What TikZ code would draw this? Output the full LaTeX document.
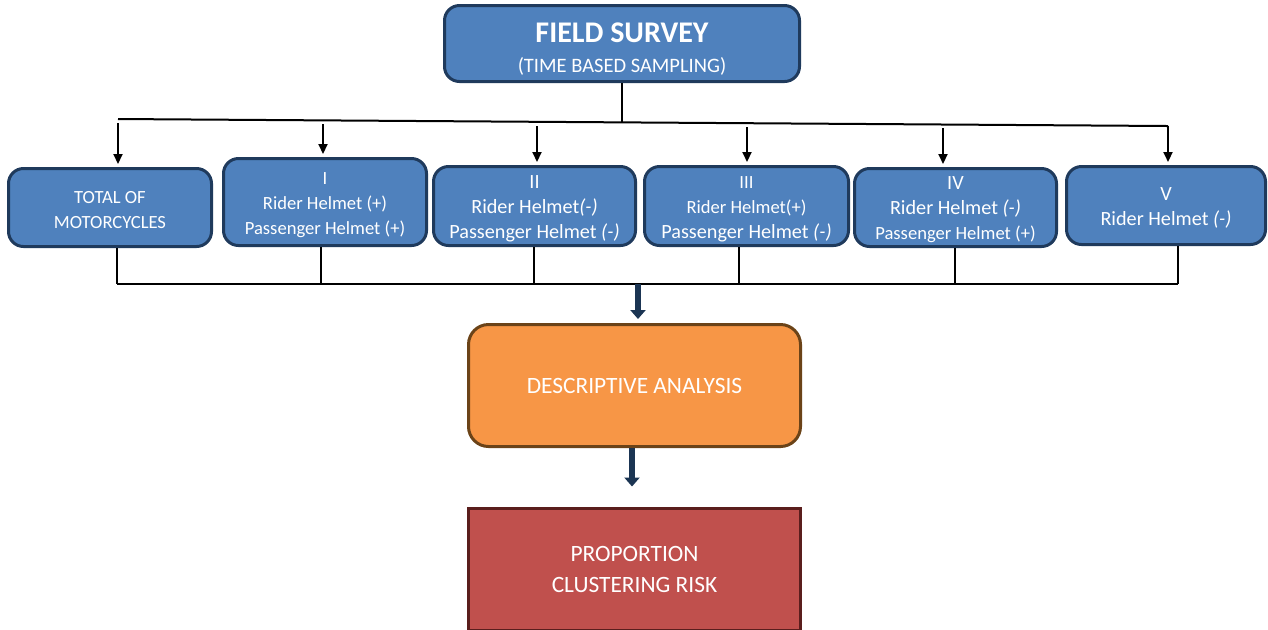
\documentclass[tikz,border=0pt]{standalone}
\usepackage{fontspec}
\setmainfont{Carlito}
\usetikzlibrary{arrows.meta,positioning}
\definecolor{boxblue}{HTML}{4F81BD}
\definecolor{edgeblue}{HTML}{1F3A5C}
\definecolor{boxorange}{HTML}{F79646}
\definecolor{edgebrown}{HTML}{6B4318}
\definecolor{boxred}{HTML}{C0504D}
\definecolor{edgered}{HTML}{5A1E1D}
\definecolor{navy}{HTML}{1B3553}
\newcommand\smsize{\fontsize{9.3}{12.5}\selectfont}
\newcommand\lgsize{\fontsize{10.1}{12.5}\selectfont}
\newcommand\negsign{\textit{(-)}}
\newcommand\topstrut{\rule{0pt}{9pt}}

\begin{document}
\begin{tikzpicture}[x=0.5pt,y=-0.5pt,
  catbox/.style = {draw=edgeblue, fill=boxblue, line width=1.5pt, rounded corners=7.5pt,
    inner sep=0pt, align=center, text=white, font=\smsize},
  wire/.style = {line width=1pt, black},
  feed/.style = {wire, -{Triangle[length=5pt,width=4.5pt]}, shorten >=1.5pt},
  bigarrow/.style = {line width=3pt, navy, -{Triangle[length=4.5pt,width=7.5pt]}}]
\useasboundingbox (0,0) rectangle (1268,629);
\clip (0,0) rectangle (1268,629);
\fill[white] (0,0) rectangle (1268,629);

% top box
\node[catbox, minimum width=177.5pt, minimum height=38pt, font=\fontsize{10.25}{15.25}\selectfont]
  (survey) at (622,43.5) {\rule{0pt}{15.3pt}{\fontsize{15}{15.25}\selectfont\bfseries FIELD SURVEY}\\(TIME BASED SAMPLING)};

% distribution line
\coordinate (busL) at (118,119);
\coordinate (busM) at (622,122.4);
\coordinate (busR) at (1168,126);
\draw[wire] (survey.south) -- (busM);
\draw[wire] (busL) -- (busR);

% category boxes
\node[catbox, minimum width=101.5pt, minimum height=39pt] (tot) at (110,207.5)
  {\topstrut TOTAL OF\\MOTORCYCLES};
\node[catbox, minimum width=101.5pt, minimum height=43.5pt] (one) at (325,202)
  {\topstrut I\\Rider Helmet (+)\\Passenger Helmet (+)};
\node[catbox, minimum width=101pt, minimum height=39.5pt, font=\lgsize] (two) at (534.5,206)
  {\topstrut II\\Rider Helmet\negsign\\Passenger Helmet \negsign};
\node[catbox, minimum width=102pt, minimum height=39.5pt] (three) at (746.5,206)
  {\topstrut III\\Rider Helmet(+)\\{\lgsize Passenger Helmet \negsign}};
\node[catbox, minimum width=101pt, minimum height=39pt] (four) at (955.5,207.5)
  {\topstrut{\lgsize IV}\\{\lgsize Rider Helmet \negsign}\\Passenger Helmet (+)};
\node[catbox, minimum width=99.5pt, minimum height=39pt, font=\lgsize] (five) at (1166,205.5)
  {\topstrut V\\Rider Helmet \negsign};

% arrows in, lines out
\foreach \name/\tx/\ty/\dx in {
  tot/118/123/117,
  one/323/124/321,
  two/537/126/534,
  three/747/127/739,
  four/943/128/955,
  five/1168/126/1178
} {
\coordinate (tap-\name) at (\tx,\ty);
\coordinate (drop-\name) at (\dx,284);
\draw[feed] (tap-\name) -- (tap-\name |- \name.north);
\draw[wire] (drop-\name |- \name.south) -- (drop-\name);
}
\draw[wire] (drop-tot) -- (drop-five);

% analysis steps
\node[draw=edgebrown, fill=boxorange, line width=1.5pt, rounded corners=10pt,
  minimum width=166pt, minimum height=61pt, text=white, font=\fontsize{11.7}{15.5}\selectfont]
  (desc) at (634.5,385.5) {DESCRIPTIVE ANALYSIS};
\node[draw=edgered, fill=boxred, line width=1.5pt, minimum width=166pt, minimum height=61pt,
  align=center, text=white, font=\fontsize{11.7}{15.5}\selectfont]
  (prop) at (634.5,569) {PROPORTION\\CLUSTERING RISK};

\coordinate (merge) at (638,284);
\draw[bigarrow] (merge) -- ([yshift=2pt]merge |- desc.north);
\draw[bigarrow] ([xshift=-1.25pt]desc.south) -- ([xshift=-1.25pt,yshift=10pt]desc.south |- prop.north);
\end{tikzpicture}
\end{document}
